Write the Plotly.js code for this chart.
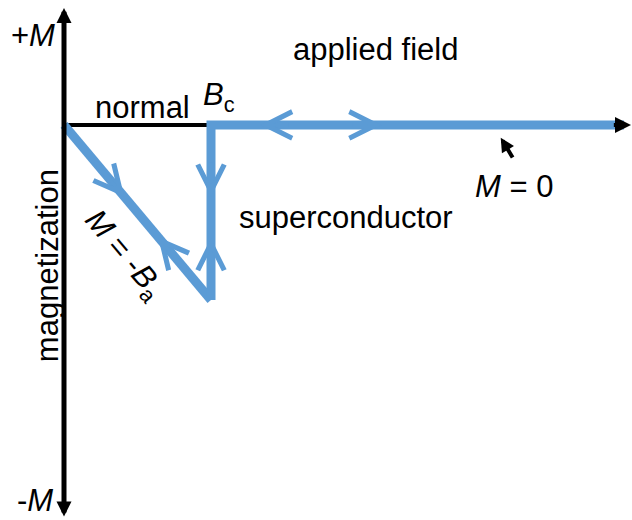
<!DOCTYPE html>
<html>
<head>
<meta charset="utf-8">
<script src="https://cdn.plot.ly/plotly-3.0.1.min.js"></script>
<style>html,body{margin:0;padding:0;background:#fff;}#chart{width:632px;height:520px;}</style>
</head>
<body>
<div id="chart"></div>
<script>
// ---- data (applied field B in units of Bc, magnetization M in units of Bc) ----
const diagB = [0, 1];            // M = -Ba branch
const diagM = [0, -1];
const stepB = [1, 1, 3.81];      // jump at Bc, then M = 0
const stepM = [-1, 0, 0];
const normalB = [0, 1];          // normal state line
const normalM = [0, 0];
const axisB = [0, 3.83];         // applied-field axis
const axisM = [0, 0];
const axisEndB = 3.857;
const mAxisTop = 0.669, mAxisBottom = -2.24;

// direction chevrons on the path: tip positions and direction of travel
const chevB  = [0.41, 0.64, 1, 1, 1.333, 2.16];
const chevM  = [-0.41, -0.64, -0.41, -0.646, 0, 0];
const chevDB = [1, -1, 0, 0, -1, 1];
const chevDM = [-1, 1, -1, 1, 0, 0];

// pointer arrow to the M = 0 line
const pointerTip = [2.971, -0.0726];
const pointerTail = [3.054, -0.1886];

// labels
const labelText = ['+<i>M</i>', '-<i>M</i>', 'applied field', 'normal', '<i>B</i><sub>c</sub>',
                   'superconductor', '<i>M</i> = 0', 'magnetization', '<i>M</i> = -<i>B</i><sub>a</sub>'];
const labelB = [-0.211, -0.197, 2.116, 0.531, 1.051, 1.918, 3.061, -0.115, 0.408];
const labelM = [0.514, -2.143, 0.434, 0.097, 0.16, -0.526, -0.354, -0.806, -0.748];
const labelAngle = [0, 0, 0, 0, 0, 0, 0, -90, 50];

const BLUE = '#5B9BD5';
const FONT = 'Liberation Sans, Arial, sans-serif';

const traces = [
  {x: axisB, y: axisM, mode: 'lines', line: {color: '#000', width: 4}, hoverinfo: 'skip'},
  {x: normalB, y: normalM, mode: 'lines', line: {color: '#000', width: 4}, hoverinfo: 'skip'},
  {x: diagB, y: diagM, mode: 'lines', line: {color: BLUE, width: 9}, hoverinfo: 'skip'},
  {x: stepB, y: stepM, mode: 'lines', line: {color: BLUE, width: 9}, hoverinfo: 'skip'}
];

const arrowBase = {xref: 'x', yref: 'y', axref: 'x', ayref: 'y', text: '', showarrow: true,
  font: {size: 1}, borderpad: 0, standoff: 0, startstandoff: 0};

const annotations = [];
// vertical magnetization axis with arrows at both ends
annotations.push(Object.assign({}, arrowBase, {x: 0, y: mAxisTop, ax: 0, ay: mAxisBottom,
  arrowside: 'end+start', arrowhead: 2, startarrowhead: 2,
  arrowwidth: 5, arrowsize: 0.6, startarrowsize: 0.6, arrowcolor: '#000'}));
// applied field axis head
annotations.push(Object.assign({}, arrowBase, {x: axisEndB, y: 0, ax: axisEndB - 0.12, ay: 0,
  arrowhead: 2, arrowwidth: 4, arrowsize: 0.8, arrowcolor: '#000'}));
// chevrons
for (let i = 0; i < chevB.length; i++) {
  annotations.push(Object.assign({}, arrowBase, {x: chevB[i], y: chevM[i],
    ax: chevB[i] - chevDB[i] * 0.2, ay: chevM[i] - chevDM[i] * 0.2,
    arrowhead: 5, arrowwidth: 4, arrowsize: 1.3, arrowcolor: BLUE}));
}
// pointer
annotations.push(Object.assign({}, arrowBase, {x: pointerTip[0], y: pointerTip[1], ax: pointerTail[0], ay: pointerTail[1],
  arrowhead: 2, arrowwidth: 4, arrowsize: 0.7, arrowcolor: '#000'}));
// text labels
for (let i = 0; i < labelText.length; i++) {
  annotations.push({x: labelB[i], y: labelM[i], xref: 'x', yref: 'y', text: labelText[i], showarrow: false,
    textangle: labelAngle[i], font: {family: FONT, size: 31, color: '#000'}, xanchor: 'center', yanchor: 'middle'});
}

const layout = {
  width: 632, height: 520,
  margin: {l: 0, r: 0, t: 0, b: 0, pad: 0},
  paper_bgcolor: '#fff', plot_bgcolor: '#fff',
  showlegend: false,
  xaxis: {visible: false, range: [-0.4354, 3.864], fixedrange: true},
  yaxis: {visible: false, range: [-2.257, 0.714], fixedrange: true},
  annotations: annotations
};

Plotly.newPlot('chart', traces, layout, {staticPlot: true, displayModeBar: false});
</script>
</body>
</html>
